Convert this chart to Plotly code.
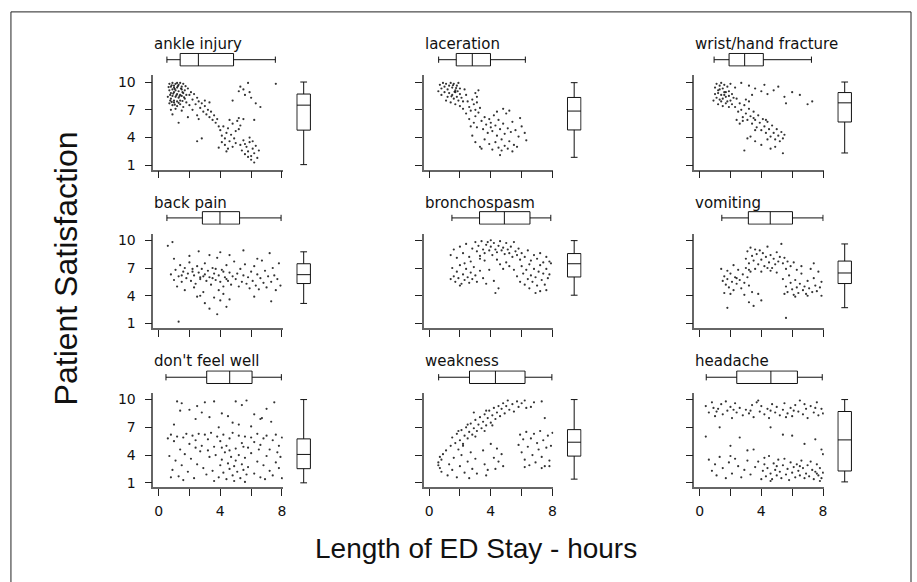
import plotly.graph_objects as go

categories = ["ankle injury", "laceration", "wrist/hand fracture",
              "back pain", "bronchospasm", "vomiting",
              "don't feel well", "weakness", "headache"]

x_tick_vals = [0, 2, 4, 6, 8]
x_tick_text = ["0", "", "4", "", "8"]
y_tick_vals = [1, 4, 7, 10]
y_tick_text = ["1", "4", "7", "10"]

# length of stay box stats (hours)
los_low = [0.54, 0.62, 0.94, 0.54, 1.48, 1.44, 0.48, 0.62, 0.43]
los_q1 = [1.40, 1.76, 1.91, 2.84, 3.27, 3.16, 3.12, 2.62, 2.41]
los_med = [2.58, 2.80, 2.92, 3.98, 4.88, 4.58, 4.61, 4.30, 4.62]
los_q3 = [4.86, 3.98, 4.13, 5.25, 6.54, 6.02, 6.06, 6.22, 6.34]
los_high = [7.57, 6.24, 7.25, 7.94, 7.89, 8.00, 7.96, 7.96, 7.95]

# satisfaction box stats
sat_low = [1.07, 1.86, 2.33, 3.17, 4.06, 2.71, 1.00, 1.40, 1.10]
sat_q1 = [4.80, 4.82, 5.68, 5.32, 6.03, 5.32, 2.53, 3.89, 2.28]
sat_med = [7.50, 6.86, 7.75, 6.28, 7.46, 6.46, 4.07, 5.39, 5.64]
sat_q3 = [8.70, 8.33, 8.86, 7.46, 8.56, 7.75, 5.75, 6.75, 8.71]
sat_high = [10.0, 9.93, 10.0, 8.75, 9.96, 9.60, 10.0, 10.0, 10.0]

ankle_pts = [(0.7,9.8),(0.8,9.5),(0.9,9.9),(1.0,9.6),(1.1,9.8),(1.2,9.4),(1.3,9.7),(1.4,9.9),(1.5,9.5),(1.6,9.8),
    (0.7,9.1),(0.8,8.8),(0.9,9.2),(1.0,8.9),(1.1,9.1),(1.2,8.7),(1.3,9.0),(1.4,8.6),(1.5,9.2),(1.6,8.8),(1.7,9.1),
    (0.6,8.4),(0.8,8.2),(0.9,8.5),(1.0,8.0),(1.1,8.4),(1.2,7.9),(1.3,8.3),(1.4,8.0),(1.5,8.5),(1.7,8.2),(1.8,8.6),
    (0.7,7.7),(0.9,7.5),(1.0,7.8),(1.2,7.4),(1.4,7.6),(1.6,7.3),(1.8,7.8),(0.8,7.0),(1.1,7.1),(1.5,6.9),
    (0.9,6.5),(1.3,5.6),(1.0,9.4),(1.2,9.9),(0.75,8.6),
    (0.85,9.65),(1.05,9.25),(1.25,9.55),(1.45,9.3),(0.65,9.45),(1.15,8.55),(1.35,8.45),(0.95,8.75),(1.55,8.9),
    (0.75,8.0),(1.05,7.55),(1.3,7.75),(1.65,8.35),(0.85,7.85),(1.75,9.55),(1.55,7.95),
    (1.9,9.3),(2.0,8.6),(2.1,8.9),(2.2,8.1),(2.3,8.7),(2.4,7.6),(2.5,8.3),(2.6,7.9),(2.7,7.2),(2.8,7.7),(2.9,6.8),
    (3.0,7.4),(3.1,6.5),(3.2,7.0),(3.3,6.2),(3.4,6.8),(3.5,5.9),(3.6,6.4),(3.7,5.6),(3.8,6.0),(2.2,7.0),(2.5,6.4),
    (2.0,7.5),(3.0,8.0),(3.3,7.8),(2.6,6.0),(3.9,5.2),(2.5,3.6),(2.8,3.9),(1.9,6.2),
    (4.0,4.8),(4.1,4.2),(4.2,5.2),(4.3,3.9),(4.4,4.5),(4.5,5.0),(4.6,3.6),(4.7,4.3),(4.8,5.5),(4.9,3.9),(5.0,4.7),
    (5.1,5.8),(5.2,4.9),(4.3,3.2),(4.5,2.8),(4.8,3.0),(5.0,3.4),(4.1,3.5),(5.3,5.3),(4.6,5.9),(5.2,6.1),(3.9,2.9),(4.4,2.5),
    (5.3,3.2),(5.4,2.6),(5.5,3.7),(5.6,2.2),(5.7,3.0),(5.8,2.5),(5.9,3.5),(6.0,2.0),(6.1,2.8),(6.2,2.3),(6.3,3.1),
    (6.4,1.8),(6.0,1.6),(6.2,1.3),(5.9,4.0),(6.5,2.6),(5.6,3.3),(5.8,1.9),(6.1,3.6),
    (5.3,9.5),(5.5,9.2),(5.6,8.6),(5.8,9.9),(5.9,8.9),(6.0,8.3),(6.3,7.7),(6.6,7.3),(7.6,9.8),(5.2,9.0),(4.8,8.0),(5.5,6.0),(6.2,5.9)]

laceration_pts = [(0.7,9.7),(0.8,9.3),(0.9,9.9),(1.0,9.5),(1.1,9.8),(1.2,9.2),(1.3,9.6),(1.4,9.9),(1.5,9.4),(1.6,9.8),
    (1.7,9.1),(1.8,9.6),(1.9,9.9),(2.0,9.3),(1.55,9.65),(1.75,9.35),(1.65,8.95),(1.85,9.0),(1.45,8.45),
    (0.8,8.6),(1.0,8.9),(1.2,8.4),(1.3,8.8),(1.5,8.6),(1.6,8.2),(1.7,8.9),(1.8,8.4),(1.9,8.0),(2.0,8.7),(2.1,8.3),
    (2.2,7.9),(1.4,7.8),(1.1,8.0),(0.6,9.0),(2.3,9.2),(2.4,8.6),(1.7,7.6),(2.0,7.4),
    (2.5,7.9),(2.6,7.3),(2.8,8.1),(2.9,7.6),(3.0,8.8),(3.1,8.4),(3.2,9.1),(3.1,7.8),(3.3,7.2),(2.7,6.9),(2.4,6.6),(3.0,6.3),(2.2,7.1),
    (2.6,6.0),(2.9,5.6),(3.1,5.1),(3.2,6.7),(3.4,5.8),(3.5,4.9),(3.6,6.2),(3.7,5.4),(3.8,4.5),(3.9,6.0),(4.0,5.6),
    (4.0,5.1),(4.1,4.7),(4.2,6.4),(4.3,5.3),(4.4,4.2),(4.5,5.9),(4.6,4.9),(4.7,3.8),(4.8,5.5),(4.9,4.4),(5.0,6.6),
    (5.1,5.0),(5.2,3.6),(5.3,4.6),(5.4,5.7),(5.5,3.2),(5.6,4.8),(5.8,4.1),(6.0,5.2),(6.2,4.5),(6.3,3.7),
    (2.8,4.2),(3.0,3.5),(3.3,3.0),(3.6,3.8),(3.9,3.3),(4.1,2.7),(4.3,3.5),(4.5,2.9),(4.6,2.1),(4.7,2.6),(4.9,3.1),
    (5.1,2.8),(5.4,2.5),(5.7,3.0),(3.4,2.8),(2.7,5.2),(4.4,6.8),(5.9,6.1),(3.0,7.0),(5.2,6.9),(4.8,7.1)]

wrist_pts = [(1.0,9.4),(1.1,9.8),(1.2,9.1),(1.3,9.6),(1.4,9.9),(1.5,9.3),(1.6,9.7),(1.7,8.9),(1.8,9.5),(1.9,9.0),(2.0,9.8),
    (1.0,8.7),(1.1,8.3),(1.2,8.8),(1.3,8.1),(1.4,8.6),(1.5,8.2),(1.6,8.9),(1.7,8.4),(1.8,7.9),(1.9,8.5),(2.0,8.0),
    (2.1,8.7),(2.2,8.3),(1.2,7.6),(1.4,7.9),(1.5,7.4),(1.7,7.7),(1.9,7.3),(2.1,7.6),(0.9,8.0),(2.3,9.4),(1.3,9.2),(1.6,8.6),
    (2.3,7.3),(2.4,8.2),(2.5,6.8),(2.6,7.7),(2.7,7.0),(2.8,6.2),(2.9,7.5),(3.0,6.6),(3.1,5.9),(3.2,7.1),(3.3,6.3),
    (3.4,5.5),(3.5,6.8),(3.6,5.9),(3.7,5.1),(3.8,6.4),(3.9,5.6),(4.0,4.8),(4.1,6.0),(4.2,5.2),(4.3,4.5),(4.4,5.7),
    (4.5,4.9),(4.6,4.1),(4.7,5.3),(4.8,4.5),(4.9,3.8),(5.0,4.9),(5.1,4.2),(5.2,3.6),(5.3,4.6),(5.4,3.9),(5.5,4.3),
    (3.0,8.1),(3.2,7.9),(2.8,5.8),(2.4,5.9),(2.6,5.5),(3.6,4.8),(4.3,5.9),(3.5,6.1),
    (2.7,9.9),(3.2,9.6),(3.6,9.3),(4.0,9.0),(4.4,8.7),(4.8,9.1),(5.1,9.5),(5.5,8.4),(6.0,8.9),(6.5,8.6),(7.0,7.6),
    (7.3,7.9),(5.6,7.7),(3.4,8.6),(4.2,9.7),
    (2.9,2.6),(3.3,4.1),(3.6,3.6),(4.0,3.2),(4.4,3.8),(4.9,3.0),(5.4,2.3),(4.6,2.8),(3.1,3.9)]

backpain_pts = [(0.6,9.4),(0.9,9.8),(1.3,1.2),
    (0.8,6.3),(1.0,5.7),(1.1,6.8),(1.3,6.1),(1.4,7.3),(1.5,5.5),(1.6,6.6),(1.7,7.0),(1.8,5.9),(1.9,6.4),(2.0,7.6),
    (2.1,5.6),(2.2,6.9),(2.3,6.2),(2.4,5.3),(2.5,7.2),(2.6,6.5),(2.7,5.8),(2.8,6.9),(2.9,6.1),(3.0,7.5),(3.1,5.6),
    (3.2,6.7),(3.3,6.0),(3.4,5.2),(3.5,7.0),(3.6,6.4),(3.7,5.7),(3.8,8.1),(3.9,6.2),(4.0,5.5),(4.1,6.8),(4.2,5.0),
    (4.3,6.0),(4.4,7.3),(4.5,5.6),(4.6,6.5),(4.7,5.2),(4.8,6.1),(4.9,7.7),(5.0,5.8),(5.1,6.4),(5.2,5.0),(5.3,6.9),
    (5.4,5.5),(5.5,6.2),(5.6,7.4),(5.7,5.3),(5.8,6.0),(5.9,4.8),(6.0,6.6),(6.1,5.6),(6.2,7.2),(6.3,5.1),(6.4,6.3),
    (6.5,4.7),(6.6,5.9),(6.7,7.8),(6.8,5.4),(6.9,6.7),(7.0,4.9),(7.1,6.1),(7.2,8.6),(7.3,5.5),(7.4,7.0),(7.5,6.2),
    (7.6,4.6),(7.7,5.8),(7.8,7.5),(7.9,5.1),
    (1.2,5.0),(1.7,4.6),(2.3,4.9),(2.9,4.4),(3.3,8.4),(2.0,8.3),(2.6,8.8),(4.6,8.4),(5.5,8.9),(6.4,8.0),(4.0,8.7),
    (1.0,8.0),(3.0,6.3),(3.5,5.9),(2.2,6.6),(4.2,6.6),(3.7,6.9),(2.7,6.0),(4.4,5.8),(1.5,6.2),
    (2.7,4.0),(3.0,3.2),(3.3,2.6),(3.6,3.8),(3.8,2.0),(4.0,3.5),(4.2,4.2),(4.4,2.8),(4.6,3.6),(3.9,4.6),(2.5,3.9),(6.2,3.9),(7.3,3.4)]

bronchospasm_pts = [(1.4,8.4),(1.6,9.0),(1.8,8.1),(2.0,9.3),(2.2,8.6),(2.4,9.6),(2.6,8.2),(2.8,9.1),(3.0,9.8),(3.1,8.8),
    (3.2,9.4),(3.3,8.3),(3.4,9.9),(3.5,9.0),(3.6,8.6),(3.7,9.5),(3.8,9.8),(3.9,8.9),(4.0,9.3),(4.1,8.4),(4.2,9.7),
    (4.3,9.0),(4.4,8.7),(4.5,9.4),(4.6,9.9),(4.7,8.9),(4.8,9.2),(4.9,8.5),(5.0,9.7),(5.1,9.0),(5.2,8.6),(5.3,9.3),
    (5.4,8.2),(5.5,9.8),(5.6,8.8),(5.7,8.4),(5.8,9.1),(5.9,7.9),(6.0,8.6),(6.2,8.2),(6.4,8.9),(6.6,7.8),(6.8,8.4),
    (7.0,8.0),(7.2,8.6),(7.4,7.6),(7.6,8.2),(7.8,7.7),(3.6,7.8),(4.4,7.9),(5.0,7.6),(2.7,7.7),(4.0,10.0),(3.3,8.0),
    (1.5,7.0),(1.6,6.1),(1.7,5.5),(1.8,6.6),(1.9,5.9),(2.0,7.3),(2.1,5.3),(2.2,6.3),(2.3,5.7),(2.4,6.9),(2.5,6.0),
    (2.6,5.4),(2.7,6.5),(2.8,5.8),(2.9,7.1),(3.0,6.2),(3.1,5.5),(3.3,6.7),(3.5,5.9),(3.7,5.3),(2.3,7.5),(1.4,5.8),(2.0,5.1),
    (5.5,6.8),(5.7,6.1),(5.9,5.5),(6.0,7.2),(6.1,6.4),(6.2,5.2),(6.3,6.8),(6.4,5.8),(6.5,7.4),(6.6,6.2),(6.7,5.5),
    (6.8,6.9),(6.9,6.0),(7.0,5.1),(7.1,6.6),(7.2,7.3),(7.3,5.7),(7.4,6.4),(7.5,5.2),(7.6,6.9),(7.7,5.9),(7.8,6.3),
    (7.9,7.5),(6.5,4.8),(7.2,4.5),(7.6,4.6),(6.9,4.3),
    (4.3,4.3),(4.5,4.8),(4.2,5.6),(3.9,6.8),(4.8,6.9),(5.2,7.2),(4.6,7.4)]

vomiting_pts = [(1.5,5.6),(1.6,6.1),(1.7,5.2),(1.8,5.8),(1.9,4.9),(2.0,6.4),(2.1,5.5),(2.2,4.6),(2.3,6.0),(2.4,5.3),
    (2.5,6.8),(2.6,5.7),(2.7,4.8),(2.8,6.3),(2.9,5.4),(3.0,7.0),(3.1,6.0),(3.2,5.1),(3.3,6.6),(3.4,4.4),(1.6,4.3),
    (2.0,4.2),(1.4,6.9),(2.2,7.3),(2.9,4.1),(1.8,6.7),(2.4,5.9),
    (3.0,8.0),(3.1,8.8),(3.2,7.5),(3.3,9.2),(3.4,8.3),(3.5,7.8),(3.6,9.0),(3.7,8.5),(3.8,7.4),(3.9,8.9),(4.0,7.9),
    (4.1,8.6),(4.2,7.2),(4.3,8.2),(4.4,9.3),(4.5,7.6),(4.6,8.4),(4.7,7.0),(4.8,8.0),(4.9,7.4),(5.0,8.7),(5.1,7.7),
    (5.2,8.2),(5.3,9.6),(5.4,7.5),(5.5,8.1),(5.6,6.9),(5.7,7.7),(5.9,7.2),(6.1,7.6),(6.3,6.8),(3.6,6.9),(4.0,6.6),
    (4.6,6.7),(3.2,6.8),(4.4,7.0),(5.0,6.5),
    (5.4,5.8),(5.6,5.0),(5.7,4.4),(5.8,6.2),(5.9,5.4),(6.0,4.7),(6.1,4.1),(6.2,5.7),(6.3,4.9),(6.4,4.3),(6.5,5.3),
    (6.6,6.4),(6.7,4.6),(6.8,5.0),(6.9,4.2),(7.0,5.6),(7.1,4.8),(7.2,6.9),(7.3,4.4),(7.4,5.9),(7.5,5.1),(7.6,4.5),
    (7.7,6.6),(7.8,4.9),(7.9,5.5),(6.2,3.9),(7.0,4.0),(5.5,4.2),(6.6,7.2),(7.4,7.5),(7.9,4.0),
    (1.8,2.7),(3.2,3.3),(3.5,2.9),(5.6,1.6),(4.0,3.5),(3.8,4.2)]

dontfeelwell_pts = [(1.2,9.8),(1.5,9.6),(2.5,9.3),(3.0,9.7),(2.0,8.9),(1.4,8.8),(3.6,9.8),(4.1,8.5),(4.5,8.2),(5.4,9.4),
    (5.7,9.9),(6.2,8.4),(6.7,8.0),(7.5,9.7),(7.0,9.0),(2.4,7.9),(3.3,8.1),(4.8,7.5),(5.2,7.3),(6.0,7.1),(7.3,7.6),
    (1.0,7.3),(3.9,7.0),(6.6,7.9),(5.0,9.8),(2.8,8.6),
    (0.6,5.8),(0.8,6.2),(1.0,5.5),(1.2,6.0),(1.4,4.6),(1.6,5.9),(1.8,6.3),(2.0,5.2),(2.2,6.1),(2.4,5.6),(2.6,6.3),
    (2.8,5.0),(3.0,6.2),(3.2,5.7),(3.4,6.4),(3.6,4.9),(3.8,6.0),(4.0,5.5),(4.2,6.2),(4.4,5.0),(4.6,5.8),(4.8,6.4),
    (5.0,4.7),(5.2,6.1),(5.4,5.3),(5.6,6.0),(5.8,4.8),(6.0,5.9),(6.2,5.4),(6.4,6.3),(6.6,5.1),(6.8,5.8),(7.0,6.1),
    (7.2,4.6),(7.4,5.6),(7.6,6.2),(7.8,5.0),(8.0,5.9),
    (0.7,3.9),(0.9,2.4),(1.1,3.4),(1.3,1.7),(1.5,2.9),(1.7,4.1),(1.9,2.2),(2.1,3.6),(2.3,1.5),(2.5,3.0),(2.7,4.4),
    (2.9,2.6),(3.1,1.9),(3.3,3.8),(3.5,2.3),(3.7,4.0),(3.9,1.6),(4.0,2.9),(4.1,3.5),(4.2,2.1),(4.3,4.3),(4.4,1.4),
    (4.5,3.1),(4.6,2.5),(4.7,3.8),(4.8,1.8),(4.9,2.8),(5.0,3.4),(5.1,2.2),(5.2,4.0),(5.3,1.5),(5.4,3.0),(5.5,2.4),
    (5.6,3.7),(5.7,1.9),(5.8,2.7),(6.0,4.2),(6.2,2.0),(6.4,3.3),(6.6,1.6),(6.8,2.9),(7.0,3.9),(7.2,2.3),(7.4,1.8),
    (7.6,3.2),(7.8,2.6),(8.0,1.5),
    (4.1,4.8),(4.6,4.5),(5.5,4.9),(3.2,4.5),(2.4,4.8),(6.5,4.6),(7.7,4.3),(0.8,1.6),(1.6,1.3),(4.9,1.2),(5.6,1.1),
    (6.9,1.4),(3.6,1.2),(7.9,3.8)]

weakness_pts = [(1.4,5.0),(1.5,5.9),(1.7,5.3),(1.8,6.3),(2.0,5.6),(2.1,6.7),(2.2,5.2),(2.3,6.1),(2.4,7.0),(2.5,5.8),
    (2.6,6.5),(2.7,7.4),(2.8,6.2),(2.9,6.9),(3.0,7.8),(3.1,6.6),(3.2,7.3),(3.3,8.1),(3.4,6.9),(3.5,7.6),(3.6,8.4),
    (3.7,7.2),(3.8,8.0),(3.9,8.8),(4.0,7.5),(4.1,8.3),(4.2,9.1),(4.3,7.9),(4.4,8.6),(4.5,9.3),(4.6,8.2),(4.7,9.0),
    (4.8,9.6),(4.9,8.5),(5.0,9.3),(5.1,9.9),(5.2,8.9),(5.4,9.5),(5.5,8.7),(5.7,9.8),(5.8,9.2),(6.0,9.6),(6.2,9.9),
    (6.3,9.1),(3.0,6.0),(2.2,5.0),(3.6,6.6),(4.1,7.2),(1.9,6.6),(2.5,7.3),(2.9,8.6),(3.7,8.8),(6.8,9.7),(7.3,9.8),
    (7.5,8.0),(6.6,9.2),
    (0.6,3.2),(0.7,2.6),(0.7,3.8),(0.8,2.2),(0.8,3.5),(0.9,4.1),(0.6,2.9),(1.1,4.5),(1.3,3.0),(1.5,2.4),(1.6,3.7),
    (1.8,1.6),(2.0,2.8),(2.1,4.0),(2.3,2.1),(2.5,3.3),(2.6,1.5),(2.8,2.5),(3.0,3.6),(3.1,2.0),(1.2,1.8),(1.9,4.6),(2.7,4.3),
    (3.6,3.0),(3.8,2.4),(4.0,5.2),(4.2,3.7),(4.4,4.7),(4.5,3.3),(4.7,4.1),(4.8,2.8),(3.7,1.8),(4.3,2.5),(3.5,4.5),
    (5.8,5.1),(5.9,6.2),(6.0,4.3),(6.1,5.7),(6.2,3.5),(6.3,6.5),(6.4,4.9),(6.5,2.9),(6.6,5.8),(6.7,4.0),(6.8,6.3),
    (6.9,3.2),(7.0,5.3),(7.1,4.6),(7.2,6.6),(7.3,3.8),(7.4,5.6),(7.5,2.8),(7.6,4.8),(7.7,6.1),(7.8,3.4),(7.9,5.0),
    (8.0,6.4),(7.3,2.6),(6.2,2.7),(7.8,2.8)]

headache_pts = [(0.4,9.3),(0.6,8.6),(0.8,9.7),(1.0,8.2),(1.2,9.0),(1.4,9.5),(1.5,8.4),(1.7,9.8),(1.8,8.8),(2.0,9.2),
    (2.1,8.0),(2.3,9.6),(2.4,8.6),(2.6,9.1),(2.8,8.3),(3.0,8.9),(3.2,8.5),(3.4,9.4),(3.5,8.1),(3.7,9.7),(3.9,8.7),
    (4.0,9.3),(4.2,8.4),(4.4,9.0),(4.5,8.0),(4.7,9.5),(4.9,8.6),(5.0,9.2),(5.2,8.3),(5.4,8.9),(5.5,9.6),(5.7,8.5),
    (5.9,9.1),(6.0,8.2),(6.2,9.4),(6.4,8.7),(6.5,9.9),(6.7,8.4),(6.9,9.0),(7.0,8.0),(7.2,9.3),(7.4,8.6),(7.6,9.7),
    (7.7,8.3),(7.9,9.0),(8.0,8.5),(1.1,8.7),(2.2,8.9),(3.3,8.8),(4.6,8.8),(5.6,8.1),(6.8,9.5),(7.5,9.1),(0.9,9.1),
    (3.8,9.9),(6.1,8.8),
    (0.4,6.0),(1.3,7.0),(2.6,5.9),(3.5,4.6),(4.6,7.0),(5.4,6.2),(6.0,6.1),(6.8,5.2),(7.5,5.7),(7.9,4.6),(2.0,5.0),(3.1,4.5),
    (0.6,3.5),(0.8,2.3),(1.0,3.0),(1.1,1.8),(1.3,3.8),(1.5,2.6),(1.7,1.5),(1.9,3.2),(2.1,2.0),(2.3,3.6),(2.5,2.8),
    (2.7,1.6),(2.9,2.4),(3.1,3.4),(3.3,1.9),(3.6,2.7),(3.8,3.3),(4.0,1.4),(4.1,2.3),(4.2,3.0),(4.3,1.7),(4.4,2.6),
    (4.5,3.9),(4.6,2.0),(4.7,1.4),(4.8,3.1),(4.9,2.4),(5.0,1.8),(5.1,3.5),(5.2,2.2),(5.3,1.5),(5.4,2.9),(5.5,3.6),
    (5.6,1.9),(5.7,2.5),(5.8,1.3),(5.9,3.2),(6.0,2.1),(6.1,2.7),(6.2,1.6),(6.3,3.0),(6.4,2.3),(6.5,1.8),(6.6,3.4),
    (6.7,2.6),(6.8,1.5),(6.9,2.0),(7.0,2.9),(7.1,1.7),(7.2,3.3),(7.3,2.4),(7.4,1.4),(7.5,2.2),(7.6,3.0),(7.7,1.8),
    (7.8,2.6),(7.9,1.5),(8.0,2.1),(4.2,3.7),(5.0,2.8),(6.5,2.8),(7.6,2.0),(4.6,1.2),(7.8,1.2),(2.0,3.9),(8.0,4.1)]

panel_points = [ankle_pts, laceration_pts, wrist_pts, backpain_pts, bronchospasm_pts,
                vomiting_pts, dontfeelwell_pts, weakness_pts, headache_pts]

W, H = 917, 582
col_axis_x = [154.0, 425.7, 697.4]
row_top = [75.0, 234.6, 395.3]
PW, PH = 130.0, 95.0
x_range = [-0.34, 8.05]
y_range = [0.54, 10.72]

def fx(p):
    return p / W

def fy(p):
    return 1 - p / H

fig = go.Figure()
layout = {}
annotations = []
tick_font = dict(family="DejaVu Sans", size=14, color="#111")

for k, cat in enumerate(categories):
    r, c = divmod(k, 3)
    ax0 = col_axis_x[c]
    top = row_top[r]
    ids = [3 * k + 1, 3 * k + 2, 3 * k + 3]
    xn = ["x" if i == 1 else f"x{i}" for i in ids]
    yn = ["y" if i == 1 else f"y{i}" for i in ids]
    xk = ["xaxis" if i == 1 else f"xaxis{i}" for i in ids]
    yk = ["yaxis" if i == 1 else f"yaxis{i}" for i in ids]

    common = dict(showline=True, linecolor="#666", linewidth=1.5, ticks="outside",
                  ticklen=7, tickwidth=1, tickcolor="#222", showgrid=False,
                  zeroline=False, tickfont=tick_font, fixedrange=True)
    layout[xk[0]] = dict(common, domain=[fx(ax0), fx(ax0 + PW)], range=x_range, anchor=yn[0],
                         tickvals=x_tick_vals,
                         ticktext=x_tick_text if r == 2 else [""] * 5,
                         ticklabelstandoff=3)
    layout[yk[0]] = dict(common, domain=[fy(top + PH), fy(top)], range=y_range, anchor=xn[0],
                         tickvals=y_tick_vals,
                         ticktext=y_tick_text if c == 0 else [""] * 4,
                         ticklabelstandoff=6)
    layout[xk[1]] = dict(domain=[fx(ax0), fx(ax0 + PW)], range=x_range, anchor=yn[1], visible=False)
    layout[yk[1]] = dict(domain=[fy(top - 8.8), fy(top - 22.8)], range=[-0.5, 0.5], anchor=xn[1], visible=False)
    layout[xk[2]] = dict(domain=[fx(ax0 + 143.5), fx(ax0 + 158.5)], range=[-0.5, 0.5], anchor=yn[2], visible=False)
    layout[yk[2]] = dict(domain=[fy(top + PH), fy(top)], range=y_range, anchor=xn[2], visible=False)

    pts = panel_points[k]
    fig.add_trace(go.Scatter(x=[p[0] for p in pts], y=[p[1] for p in pts], mode="markers",
                             marker=dict(size=2.2, color="#111", opacity=0.85, line=dict(width=0)),
                             xaxis=xn[0], yaxis=yn[0], showlegend=False, hoverinfo="skip"))
    fig.add_trace(go.Box(orientation="h", y=[0], q1=[los_q1[k]], median=[los_med[k]], q3=[los_q3[k]],
                         lowerfence=[los_low[k]], upperfence=[los_high[k]],
                         xaxis=xn[1], yaxis=yn[1], width=0.9, whiskerwidth=0.5,
                         line=dict(color="#111", width=1), fillcolor="white",
                         boxpoints=False, showlegend=False, hoverinfo="skip"))
    fig.add_trace(go.Box(orientation="v", x=[0], q1=[sat_q1[k]], median=[sat_med[k]], q3=[sat_q3[k]],
                         lowerfence=[sat_low[k]], upperfence=[sat_high[k]],
                         xaxis=xn[2], yaxis=yn[2], width=0.9, whiskerwidth=0.5,
                         line=dict(color="#111", width=1), fillcolor="white",
                         boxpoints=False, showlegend=False, hoverinfo="skip"))

    annotations.append(dict(text=cat, x=fx(ax0 - 1), y=fy(43.3 + 160 * r), xref="paper", yref="paper",
                            xanchor="left", yanchor="middle", showarrow=False,
                            font=dict(family="DejaVu Sans", size=15, color="#111")))

annotations.append(dict(text="Patient Satisfaction", x=fx(66), y=fy(270), xref="paper", yref="paper",
                        textangle=-90, showarrow=False, xanchor="center", yanchor="middle",
                        font=dict(family="Liberation Sans", size=32, color="#111")))
annotations.append(dict(text="Length of ED Stay - hours", x=fx(478), y=fy(552), xref="paper", yref="paper",
                        showarrow=False, xanchor="center", yanchor="middle",
                        font=dict(family="Liberation Sans", size=28, color="#111")))

fig.update_layout(**layout)
fig.update_layout(
    width=W, height=H, margin=dict(l=0, r=0, t=0, b=0),
    paper_bgcolor="white", plot_bgcolor="white",
    annotations=annotations,
    shapes=[dict(type="rect", xref="paper", yref="paper", x0=fx(11), x1=fx(915), y0=fy(600), y1=fy(11),
                 line=dict(color="#222", width=1), fillcolor="rgba(0,0,0,0)")],
)

fig.write_html("out.html")
